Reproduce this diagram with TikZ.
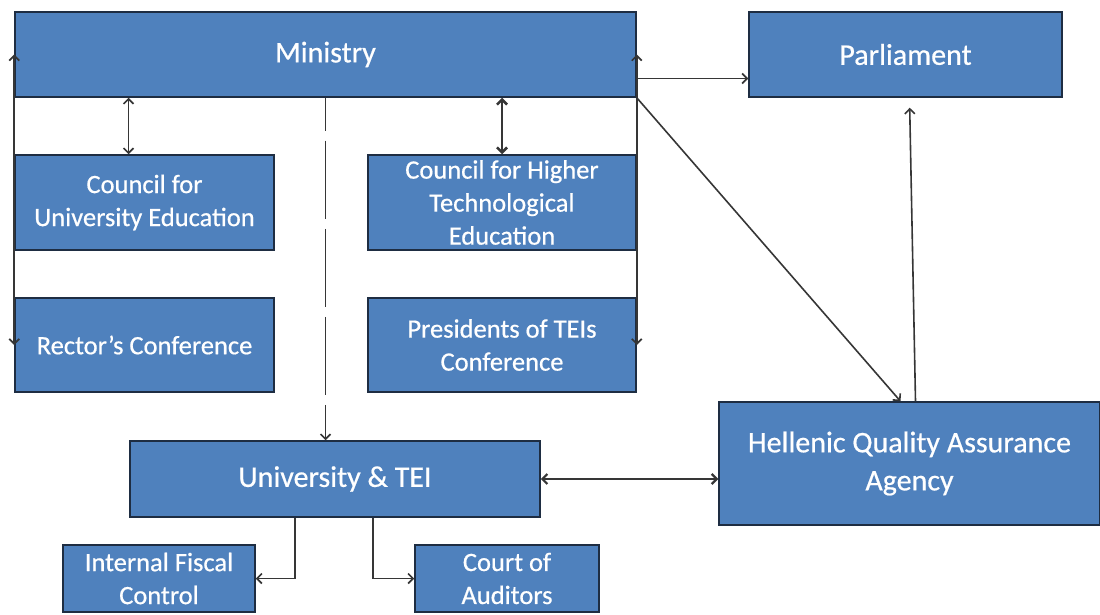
\documentclass[tikz,border=0pt]{standalone}
\usepackage{fontspec}
\setmainfont{Carlito}
\newfontfamily\boxfont[Ligatures=TeX,BoldFont=Carlito,BoldFeatures={FakeBold=0.6}]{Carlito}
\usepackage{tikz}
\usetikzlibrary{arrows.meta}
\usepackage{xcolor}
\definecolor{boxblue}{HTML}{4F81BD}
\definecolor{boxline}{HTML}{1E2D42}
\definecolor{linkgray}{HTML}{363636}

\begin{document}
\begin{tikzpicture}[x=1pt,y=-1pt,
		box/.style={draw=boxline,line width=1.5pt,fill=boxblue,text=white,align=center,inner sep=0pt},
		big/.style={box,font=\boxfont\bfseries\fontsize{30}{38}\selectfont},
		small/.style={box,font=\boxfont\bfseries\fontsize{26.5}{33}\selectfont},
		link/.style={draw=linkgray,line width=1.6pt},
		>={Straight Barb[length=5pt,width=10pt]}]
		\useasboundingbox (0,0) rectangle (1100,615);
		% boxes
		\node[big,minimum width=621pt,minimum height=85pt] (ministry) at (325.5,54.5) {Ministry};
		\node[big,minimum width=313pt,minimum height=85pt] (parliament) at (905.5,54.5) {Parliament};
		\node[small,minimum width=259pt,minimum height=95pt] (cue) at (144.5,202.5) {Council for\\University Education};
		\node[small,minimum width=268pt,minimum height=95pt] (chte) at (502,202.5) {Council for Higher\\Technological\\Education};
		\node[small,minimum width=259pt,minimum height=94pt] (rector) at (144.5,345) {Rector’s Conference};
		\node[small,minimum width=268pt,minimum height=94pt] (presidents) at (502,345) {Presidents of TEIs\\Conference};
		\node[big,minimum width=410pt,minimum height=76pt] (uni) at (335,479) {University \& TEI};
		\node[big,minimum width=381pt,minimum height=123pt] (hqaa) at (909.5,463.5) {Hellenic Quality Assurance\\Agency};
		\node[small,minimum width=192pt,minimum height=67pt] (ifc) at (159,578.5) {Internal Fiscal\\Control};
		\node[small,minimum width=184pt,minimum height=67pt] (court) at (507,578.5) {Court of\\Auditors};
		% links from the ministry
		\draw[link,<->] ([xshift=-16pt]cue.north) -- ([xshift=-16pt]cue.north |- ministry.south);
		\draw[link,<->,line width=2.6pt] (chte.north) -- (chte.north |- ministry.south);
		\draw[link,<->] (ministry.west) -- (rector.west);
		\draw[link,<->] (ministry.east) -- (presidents.east);
		\draw[link,->] ([yshift=-24pt]ministry.east) -- ([yshift=-24pt]parliament.west);
		\draw[link,->] (ministry.south east) -- ([xshift=-9pt]hqaa.north);
		\draw[link,->,dash pattern=on 78pt off 10pt,dash phase=45pt] (ministry.south) -- (ministry.south |- uni.north);
		% agency, university and controls
		\draw[link,->,shorten >=10pt] ([xshift=6pt]hqaa.north) -- ([xshift=4pt]parliament.south);
		\draw[link,<->,line width=2.2pt] (uni.east) -- (uni.east -| hqaa.west);
		\draw[link,->] ([xshift=-40pt]uni.south) |- (ifc.east);
		\draw[link,->] ([xshift=38pt]uni.south) |- (court.west);
	\end{tikzpicture}
\end{document}
